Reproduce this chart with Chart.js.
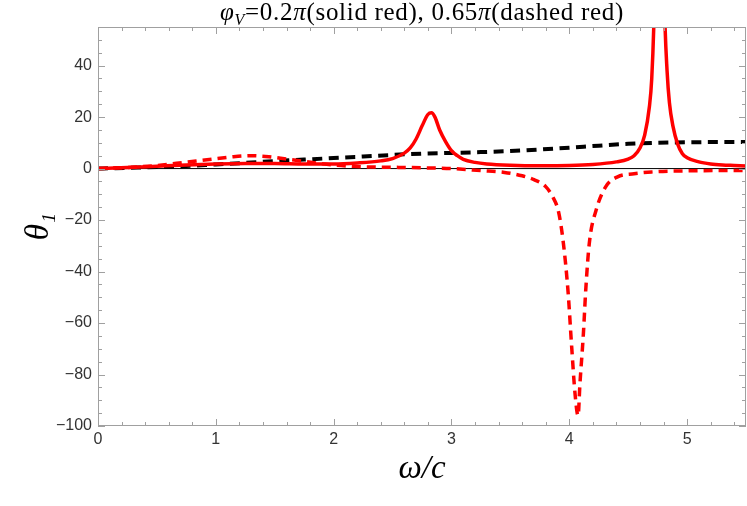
<!DOCTYPE html>
<html>
<head>
<meta charset="utf-8">
<script src="https://cdn.jsdelivr.net/npm/chart.js@4.4.1/dist/chart.umd.min.js"></script>
<style>
html, body { margin: 0; padding: 0; background: #fff; }
#marco { position: relative; width: 747px; height: 506px; }
#titulo {
    position: absolute; left: 98px; width: 648px; top: 0px;
    text-align: center; white-space: nowrap; line-height: 24px;
    font-family: "Liberation Serif", serif; font-size: 25px; letter-spacing: 0.7px; color: #000;
}
#titulo sub { font-size: 16px; vertical-align: -5px; line-height: 0; }
canvas { position: absolute; left: 0; top: 0; }
</style>
</head>
<body>
<div id="marco">
    <canvas id="grafico" width="747" height="506"></canvas>
    <div id="titulo"><i>φ</i><sub><i>V</i></sub>=0.2<i>π</i>(solid red), 0.65<i>π</i>(dashed red)</div>
</div>
<script>
// Curva preta tracejada
const omegaPreto = [0, 0.25, 0.5, 0.75, 1, 1.25, 1.5, 1.75, 2, 2.25, 2.5, 2.75, 3, 3.25, 3.5, 3.75, 4, 4.25, 4.5, 4.75, 5, 5.25, 5.5];
const thetaPreto = [0, 0.3, 0.6, 1.0, 1.6, 2.2, 2.9, 3.5, 4.1, 4.7, 5.3, 5.8, 6.1, 6.4, 6.8, 7.4, 8.1, 8.9, 9.6, 10.0, 10.2, 10.3, 10.3];

// Vermelho sólido (0.2π)
const omegaSolido = [0, 0.25, 0.5, 0.75, 1, 1.25, 1.5, 1.75, 2, 2.2, 2.4, 2.5, 2.6, 2.65, 2.7, 2.75, 2.8, 2.83, 2.86, 2.9, 2.95, 3, 3.05, 3.1, 3.2, 3.3, 3.5, 3.75, 4, 4.2, 4.4, 4.5, 4.55, 4.6, 4.64, 4.68, 4.7, 4.72, 4.74, 4.765, 4.79, 4.81, 4.83, 4.85, 4.88, 4.92, 4.96, 5, 5.1, 5.2, 5.3, 5.4, 5.5];
const thetaSolido = [0, 0.4, 0.9, 1.4, 1.8, 2.0, 2.0, 1.8, 1.8, 2.2, 3.0, 3.9, 6.0, 8.0, 11.5, 16.5, 21.0, 21.7, 20.0, 15.0, 10.5, 7.0, 5.0, 3.6, 2.4, 1.8, 1.3, 1.1, 1.2, 1.6, 2.6, 3.7, 5.0, 8.0, 13.0, 24.0, 35.0, 60.0, 110.0, 170.0, 110.0, 60.0, 38.0, 25.6, 16.5, 9.5, 5.8, 4.2, 2.6, 1.8, 1.4, 1.2, 1.0];

// Vermelho tracejado (0.65π)
const omegaTracejado = [0, 0.25, 0.5, 0.75, 1, 1.15, 1.3, 1.45, 1.6, 1.75, 2, 2.25, 2.5, 2.75, 3, 3.25, 3.45, 3.6, 3.7, 3.8, 3.86, 3.91, 3.95, 3.99, 4.02, 4.05, 4.075, 4.09, 4.12, 4.14, 4.17, 4.23, 4.31, 4.41, 4.55, 4.7, 5, 5.5];
const thetaTracejado = [0, 0.4, 1.2, 2.5, 3.8, 4.6, 5.0, 4.6, 3.7, 2.8, 1.4, 0.7, 0.5, 0.3, 0.0, -0.8, -1.5, -2.8, -4.3, -7.0, -11, -17, -29, -48, -69, -88, -96, -84, -64, -47, -29, -15.8, -7.0, -3.2, -2.0, -1.3, -0.9, -0.7];

const xTicks = [0, 1, 2, 3, 4, 5];
const yTicks = [-100, -80, -60, -40, -20, 0, 20, 40];

const pontos = (xs, ys) => xs.map((x, i) => ({ x: x, y: ys[i] }));
const menos = (v) => v < 0 ? '\u2212' + Math.abs(v) : String(v);

// Moldura com marcas internas (estilo Mathematica)
const molduraPlugin = {
    id: 'moldura',
    afterDraw(chart) {
        const { ctx, chartArea: a, scales: { x, y } } = chart;
        ctx.save();
        ctx.strokeStyle = '#a0a0a0';
        ctx.lineWidth = 1;
        ctx.strokeRect(a.left + 0.5, a.top + 0.5, a.right - a.left - 1, a.bottom - a.top - 1);
        ctx.beginPath();
        for (let v = 0; v <= 5.5001; v += 0.2) {
            const px = Math.round(x.getPixelForValue(v)) + 0.5;
            const maior = Math.abs(v - Math.round(v)) < 1e-6;
            const len = maior ? 7 : 4;
            ctx.moveTo(px, a.bottom); ctx.lineTo(px, a.bottom - len);
            ctx.moveTo(px, a.top); ctx.lineTo(px, a.top + len);
        }
        for (let v = -100; v <= 55; v += 5) {
            const py = Math.round(y.getPixelForValue(v)) + 0.5;
            const len = v % 20 === 0 ? 7 : 4;
            ctx.moveTo(a.left, py); ctx.lineTo(a.left + len, py);
            ctx.moveTo(a.right, py); ctx.lineTo(a.right - len, py);
        }
        ctx.stroke();
        ctx.restore();
    }
};

new Chart(document.getElementById('grafico').getContext('2d'), {
    type: 'line',
    data: {
        datasets: [
            {
                data: pontos(omegaSolido, thetaSolido),
                borderColor: '#ff0000', borderWidth: 3.5,
                cubicInterpolationMode: 'monotone', order: 1
            },
            {
                data: pontos(omegaTracejado, thetaTracejado),
                borderColor: '#ff0000', borderWidth: 3.5, borderDash: [9, 6],
                cubicInterpolationMode: 'monotone', order: 2
            },
            {
                data: pontos(omegaPreto, thetaPreto),
                borderColor: '#000000', borderWidth: 4, borderDash: [10, 6.5],
                cubicInterpolationMode: 'monotone', order: 3
            },
            {
                data: pontos([0, 5.5], [0, 0]),
                borderColor: '#000000', borderWidth: 1, order: 4
            }
        ]
    },
    options: {
        responsive: false,
        animation: false,
        events: [],
        elements: { point: { radius: 0 } },
        layout: { padding: { top: 27, right: 1, left: 0, bottom: 0 } },
        plugins: { legend: { display: false }, tooltip: { enabled: false } },
        scales: {
            x: {
                type: 'linear', min: 0, max: 5.5,
                afterFit: (s) => { s.height = 80; },
                afterBuildTicks: (s) => { s.ticks = xTicks.map(v => ({ value: v })); },
                grid: { display: false, drawTicks: false },
                border: { display: false },
                ticks: {
                    padding: 4, color: '#333', maxRotation: 0,
                    font: { family: 'Liberation Sans', size: 16 },
                    callback: (v) => menos(v)
                },
                title: {
                    display: true, text: 'ω/c', color: '#000',
                    font: { family: 'Liberation Serif', style: 'italic', size: 33 },
                    padding: { top: 0, bottom: 17 }
                }
            },
            y: {
                type: 'linear', min: -100, max: 55,
                afterFit: (s) => { s.width = 98; },
                afterBuildTicks: (s) => { s.ticks = yTicks.map(v => ({ value: v })); },
                grid: { display: false, drawTicks: false },
                border: { display: false },
                ticks: {
                    padding: 6, color: '#333',
                    font: { family: 'Liberation Sans', size: 16 },
                    callback: (v) => menos(v)
                },
                title: {
                    display: true, text: 'θ₁', color: '#000',
                    font: { family: 'Liberation Serif', style: 'italic', size: 33 },
                    padding: { top: 20, bottom: 0 }
                }
            }
        }
    },
    plugins: [molduraPlugin]
});
</script>
</body>
</html>
